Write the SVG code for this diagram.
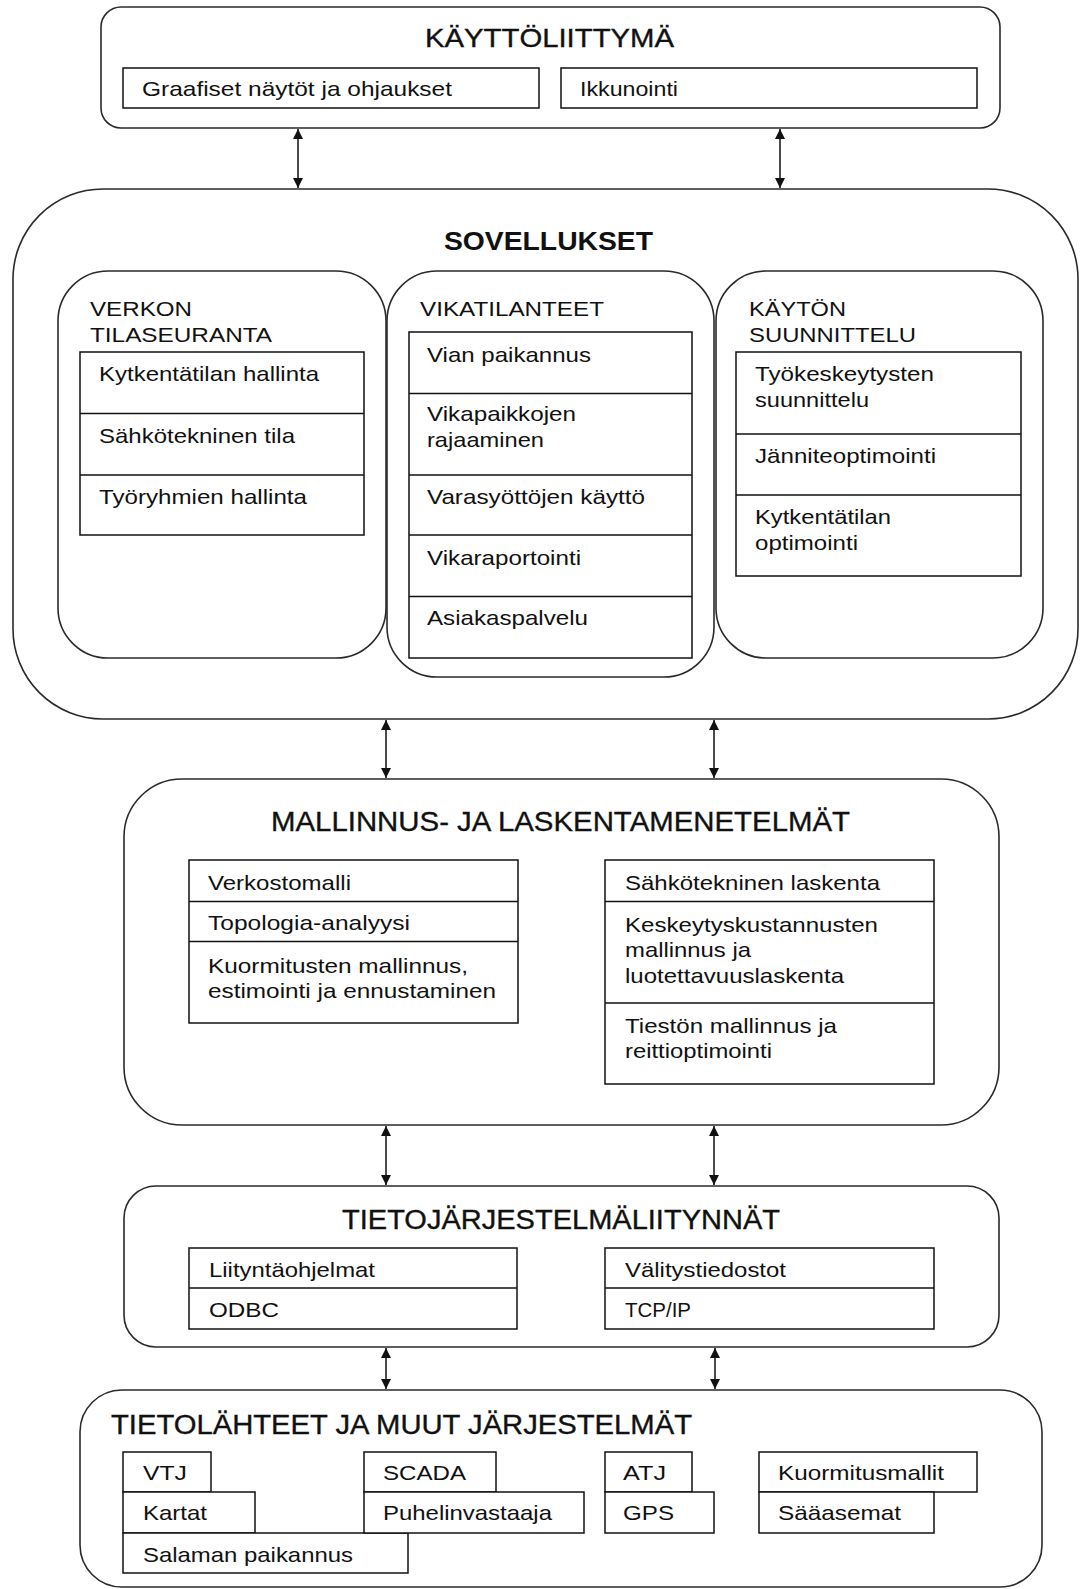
<svg xmlns="http://www.w3.org/2000/svg" width="1080" height="1589" viewBox="0 0 1080 1589">
<defs>
<style>
.big{fill:#fff;stroke:#2a2a2a;stroke-width:1.6}
.cell{fill:#fff;stroke:#111;stroke-width:1.5}
.div{stroke:#111;stroke-width:1.5;fill:none}
text{font-family:"Liberation Sans",Arial,sans-serif;fill:#111}
.t{font-size:27px;stroke:#111;stroke-width:0.35}
.tb{font-size:26px;font-weight:bold}
.s{font-size:21px}
.n{font-size:21px}
.c{stroke:#111;stroke-width:1.5;fill:none}
</style>
<marker id="ah" viewBox="0 0 10 10" refX="10" refY="5" markerWidth="10" markerHeight="10" markerUnits="userSpaceOnUse" orient="auto-start-reverse">
<path d="M0,0 L10,5 L0,10 z" fill="#111"/>
</marker>
</defs>
<rect width="1080" height="1589" fill="#fff"/>

<g id="kayttoliittyma">
<rect class="big" x="101" y="7" width="899" height="121" rx="20"/>
<text class="t" x="425" y="47" textLength="249" lengthAdjust="spacingAndGlyphs" style="font-size:26px">KÄYTTÖLIITTYMÄ</text>
<rect class="cell" x="123" y="68" width="416" height="40"/>
<text class="n" x="142" y="96" textLength="310" lengthAdjust="spacingAndGlyphs">Graafiset näytöt ja ohjaukset</text>
<rect class="cell" x="561" y="68" width="416" height="40"/>
<text class="n" x="580" y="96" textLength="98" lengthAdjust="spacingAndGlyphs">Ikkunointi</text>
</g>

<g id="sovellukset">
<rect class="big" x="13" y="189" width="1065" height="530" rx="90"/>
<text class="tb" x="444" y="250" textLength="209" lengthAdjust="spacingAndGlyphs">SOVELLUKSET</text>
</g>

<g id="verkon-tilaseuranta">
<rect class="big" x="58" y="271" width="328" height="387" rx="50"/>
<text class="s" x="90" y="316" textLength="102" lengthAdjust="spacingAndGlyphs">VERKON</text>
<text class="s" x="90" y="342" textLength="182" lengthAdjust="spacingAndGlyphs">TILASEURANTA</text>
<rect class="cell" x="80" y="352" width="284" height="183"/>
<path class="div" d="M80,413.5H364M80,475H364"/>
<text class="s" x="99" y="381" textLength="220" lengthAdjust="spacingAndGlyphs">Kytkentätilan hallinta</text>
<text class="s" x="99" y="443" textLength="196" lengthAdjust="spacingAndGlyphs">Sähkötekninen tila</text>
<text class="s" x="99" y="504" textLength="208" lengthAdjust="spacingAndGlyphs">Työryhmien hallinta</text>
</g>

<g id="vikatilanteet">
<rect class="big" x="387" y="271" width="327" height="406" rx="50"/>
<text class="s" x="420" y="316" textLength="184" lengthAdjust="spacingAndGlyphs">VIKATILANTEET</text>
<rect class="cell" x="409" y="332" width="283" height="326"/>
<path class="div" d="M409,393.5H692M409,475H692M409,535H692M409,596.5H692"/>
<text class="s" x="427" y="362" textLength="164" lengthAdjust="spacingAndGlyphs">Vian paikannus</text>
<text class="s" x="427" y="421" textLength="149" lengthAdjust="spacingAndGlyphs">Vikapaikkojen</text>
<text class="s" x="427" y="447" textLength="117" lengthAdjust="spacingAndGlyphs">rajaaminen</text>
<text class="s" x="427" y="504" textLength="218" lengthAdjust="spacingAndGlyphs">Varasyöttöjen käyttö</text>
<text class="s" x="427" y="565" textLength="154" lengthAdjust="spacingAndGlyphs">Vikaraportointi</text>
<text class="s" x="427" y="625" textLength="161" lengthAdjust="spacingAndGlyphs">Asiakaspalvelu</text>
</g>

<g id="kayton-suunnittelu">
<rect class="big" x="716" y="271" width="327" height="387" rx="50"/>
<text class="s" x="749" y="316" textLength="97" lengthAdjust="spacingAndGlyphs">KÄYTÖN</text>
<text class="s" x="749" y="342" textLength="167" lengthAdjust="spacingAndGlyphs">SUUNNITTELU</text>
<rect class="cell" x="736" y="352" width="285" height="224"/>
<path class="div" d="M736,434H1021M736,495H1021"/>
<text class="s" x="755" y="381" textLength="179" lengthAdjust="spacingAndGlyphs">Työkeskeytysten</text>
<text class="s" x="755" y="407" textLength="114" lengthAdjust="spacingAndGlyphs">suunnittelu</text>
<text class="s" x="755" y="463" textLength="181" lengthAdjust="spacingAndGlyphs">Jänniteoptimointi</text>
<text class="s" x="755" y="524" textLength="136" lengthAdjust="spacingAndGlyphs">Kytkentätilan</text>
<text class="s" x="755" y="550" textLength="103" lengthAdjust="spacingAndGlyphs">optimointi</text>
</g>

<g id="mallinnus">
<rect class="big" x="124" y="779" width="875" height="346" rx="58"/>
<text class="t" x="271" y="831" textLength="579" lengthAdjust="spacingAndGlyphs" style="font-size:28px">MALLINNUS- JA LASKENTAMENETELMÄT</text>
<rect class="cell" x="189" y="860" width="329" height="163"/>
<path class="div" d="M189,901.5H518M189,941.5H518"/>
<text class="n" x="208" y="890" textLength="143" lengthAdjust="spacingAndGlyphs">Verkostomalli</text>
<text class="n" x="208" y="930" textLength="202" lengthAdjust="spacingAndGlyphs">Topologia-analyysi</text>
<text class="n" x="208" y="973" textLength="260" lengthAdjust="spacingAndGlyphs">Kuormitusten mallinnus,</text>
<text class="n" x="208" y="998" textLength="288" lengthAdjust="spacingAndGlyphs">estimointi ja ennustaminen</text>
<rect class="cell" x="605" y="860" width="329" height="224"/>
<path class="div" d="M605,901.5H934M605,1003H934"/>
<text class="n" x="625" y="890" textLength="255" lengthAdjust="spacingAndGlyphs">Sähkötekninen laskenta</text>
<text class="n" x="625" y="932" textLength="253" lengthAdjust="spacingAndGlyphs">Keskeytyskustannusten</text>
<text class="n" x="625" y="957" textLength="126" lengthAdjust="spacingAndGlyphs">mallinnus ja</text>
<text class="n" x="625" y="983" textLength="219" lengthAdjust="spacingAndGlyphs">luotettavuuslaskenta</text>
<text class="n" x="625" y="1033" textLength="212" lengthAdjust="spacingAndGlyphs">Tiestön mallinnus ja</text>
<text class="n" x="625" y="1058" textLength="147" lengthAdjust="spacingAndGlyphs">reittioptimointi</text>
</g>

<g id="tietojarjestelmaliitynnat">
<rect class="big" x="124" y="1186" width="875" height="161" rx="32"/>
<text class="t" x="342" y="1229" textLength="438" lengthAdjust="spacingAndGlyphs">TIETOJÄRJESTELMÄLIITYNNÄT</text>
<rect class="cell" x="189" y="1248" width="328" height="81"/>
<path class="div" d="M189,1288H517"/>
<text class="n" x="209" y="1277" textLength="166" lengthAdjust="spacingAndGlyphs">Liityntäohjelmat</text>
<text class="n" x="209" y="1317" textLength="70" lengthAdjust="spacingAndGlyphs">ODBC</text>
<rect class="cell" x="605" y="1248" width="329" height="81"/>
<path class="div" d="M605,1288H934"/>
<text class="n" x="625" y="1277" textLength="161" lengthAdjust="spacingAndGlyphs">Välitystiedostot</text>
<text class="n" x="625" y="1317" textLength="66" lengthAdjust="spacingAndGlyphs">TCP/IP</text>
</g>

<g id="tietolahteet">
<rect class="big" x="80" y="1390" width="962" height="197" rx="42"/>
<text class="t" x="111" y="1434" textLength="581" lengthAdjust="spacingAndGlyphs">TIETOLÄHTEET JA MUUT JÄRJESTELMÄT</text>
<rect class="cell" x="123" y="1452" width="88" height="40"/>
<text class="n" x="143" y="1480" textLength="44" lengthAdjust="spacingAndGlyphs">VTJ</text>
<rect class="cell" x="123" y="1492" width="132" height="41"/>
<text class="n" x="143" y="1520" textLength="64" lengthAdjust="spacingAndGlyphs">Kartat</text>
<rect class="cell" x="123" y="1533" width="285" height="40"/>
<text class="n" x="143" y="1562" textLength="210" lengthAdjust="spacingAndGlyphs">Salaman paikannus</text>
<rect class="cell" x="364" y="1452" width="132" height="40"/>
<text class="n" x="383" y="1480" textLength="83" lengthAdjust="spacingAndGlyphs">SCADA</text>
<rect class="cell" x="364" y="1492" width="220" height="41"/>
<text class="n" x="383" y="1520" textLength="169" lengthAdjust="spacingAndGlyphs">Puhelinvastaaja</text>
<rect class="cell" x="605" y="1452" width="87" height="40"/>
<text class="n" x="623" y="1480" textLength="43" lengthAdjust="spacingAndGlyphs">ATJ</text>
<rect class="cell" x="605" y="1492" width="109" height="41"/>
<text class="n" x="623" y="1520" textLength="51" lengthAdjust="spacingAndGlyphs">GPS</text>
<rect class="cell" x="759" y="1452" width="218" height="40"/>
<text class="n" x="778" y="1480" textLength="166" lengthAdjust="spacingAndGlyphs">Kuormitusmallit</text>
<rect class="cell" x="759" y="1492" width="175" height="41"/>
<text class="n" x="778" y="1520" textLength="123" lengthAdjust="spacingAndGlyphs">Sääasemat</text>
</g>

<g id="connectors">
<line class="c" x1="298" y1="129" x2="298" y2="188" marker-start="url(#ah)" marker-end="url(#ah)"/>
<line class="c" x1="780" y1="129" x2="780" y2="188" marker-start="url(#ah)" marker-end="url(#ah)"/>
<line class="c" x1="386" y1="720" x2="386" y2="778" marker-start="url(#ah)" marker-end="url(#ah)"/>
<line class="c" x1="714" y1="720" x2="714" y2="778" marker-start="url(#ah)" marker-end="url(#ah)"/>
<line class="c" x1="386" y1="1126" x2="386" y2="1185" marker-start="url(#ah)" marker-end="url(#ah)"/>
<line class="c" x1="714" y1="1126" x2="714" y2="1185" marker-start="url(#ah)" marker-end="url(#ah)"/>
<line class="c" x1="386" y1="1348" x2="386" y2="1389" marker-start="url(#ah)" marker-end="url(#ah)"/>
<line class="c" x1="715" y1="1348" x2="715" y2="1389" marker-start="url(#ah)" marker-end="url(#ah)"/>
</g>
</svg>
